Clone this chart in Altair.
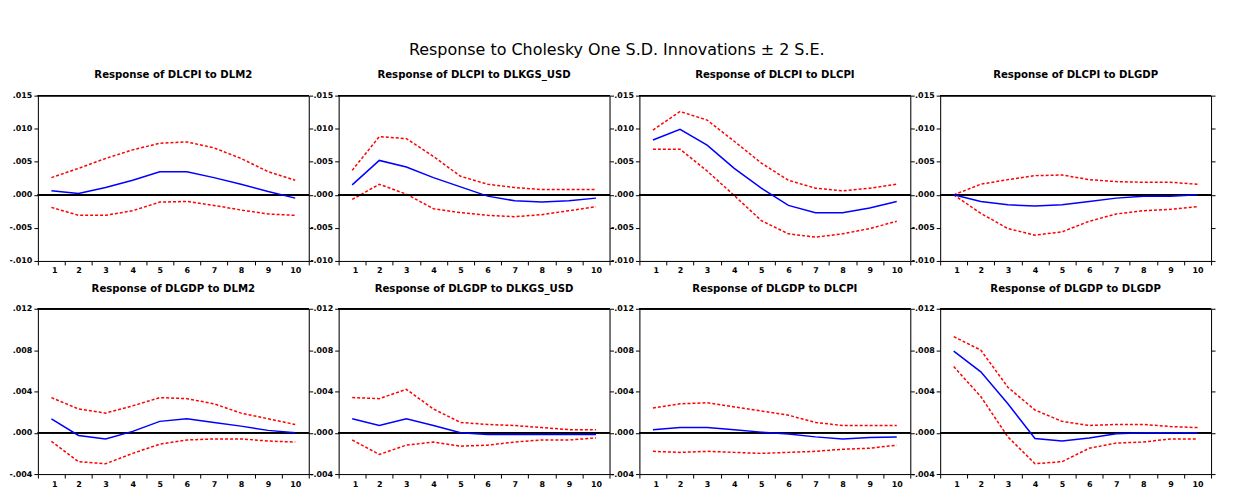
import altair as alt
import pandas as pd

periods = list(range(1, 11))

titles = [
    "Response of DLCPI to DLM2",
    "Response of DLCPI to DLKGS_USD",
    "Response of DLCPI to DLCPI",
    "Response of DLCPI to DLGDP",
    "Response of DLGDP to DLM2",
    "Response of DLGDP to DLKGS_USD",
    "Response of DLGDP to DLCPI",
    "Response of DLGDP to DLGDP",
]

# point responses (blue)
resp = [
    [0.0006, 0.0002, 0.0011, 0.0022, 0.0035, 0.0035, 0.0026, 0.0016, 0.0005, -0.0005],
    [0.0015, 0.0052, 0.0042, 0.0026, 0.0012, -0.0002, -0.0009, -0.0011, -0.0009, -0.0005],
    [0.0083, 0.0099, 0.0075, 0.0040, 0.0010, -0.0016, -0.0027, -0.0027, -0.0020, -0.0010],
    [0.0000, -0.0010, -0.0015, -0.0017, -0.0015, -0.0010, -0.0005, -0.0002, -0.0002, 0.0000],
    [0.00135, -0.00026, -0.0006, 0.00013, 0.0011, 0.00135, 0.0010, 0.00064, 0.00023, 0.0000],
    [0.00135, 0.0007, 0.00135, 0.0007, 0.0000, -0.00016, -0.00016, -0.00016, -0.00016, -0.00016],
    [0.0003, 0.0005, 0.0005, 0.0003, 0.00006, -0.00013, -0.0004, -0.0006, -0.00045, -0.0004],
    [0.0079, 0.0059, 0.0028, -0.00055, -0.0008, -0.0005, -0.0001, 0.0000, 0.0000, 0.0000],
]
# upper band (+2 S.E.)
upper = [
    [0.0026, 0.0040, 0.0055, 0.0068, 0.0078, 0.0080, 0.0071, 0.0055, 0.0035, 0.0022],
    [0.0037, 0.0088, 0.0085, 0.0058, 0.0028, 0.0016, 0.0011, 0.0008, 0.0008, 0.0008],
    [0.0098, 0.0126, 0.0113, 0.0081, 0.0048, 0.0022, 0.0010, 0.0006, 0.0010, 0.0016],
    [0.0000, 0.0016, 0.0023, 0.0029, 0.0030, 0.0023, 0.0020, 0.0019, 0.0019, 0.0016],
    [0.0034, 0.0023, 0.0019, 0.0026, 0.0034, 0.0033, 0.0028, 0.0019, 0.00135, 0.0008],
    [0.0034, 0.0033, 0.0042, 0.0023, 0.0010, 0.0008, 0.0007, 0.0005, 0.0003, 0.0003],
    [0.0024, 0.0028, 0.0029, 0.0025, 0.0021, 0.0017, 0.0010, 0.0007, 0.0007, 0.0007],
    [0.0093, 0.0080, 0.0044, 0.0022, 0.0011, 0.0007, 0.0008, 0.0008, 0.0006, 0.0005],
]
# lower band (-2 S.E.)
lower = [
    [-0.0019, -0.0031, -0.0031, -0.0024, -0.0011, -0.0010, -0.0016, -0.0023, -0.0029, -0.0031],
    [-0.0007, 0.0016, 0.0001, -0.0021, -0.0027, -0.0031, -0.0033, -0.0030, -0.0024, -0.0018],
    [0.0069, 0.0069, 0.0036, -0.0001, -0.0039, -0.0059, -0.0064, -0.0059, -0.0051, -0.0040],
    [0.0000, -0.0028, -0.0051, -0.0061, -0.0056, -0.0040, -0.0029, -0.0024, -0.0022, -0.0018],
    [-0.00084, -0.0028, -0.0030, -0.0020, -0.0011, -0.0007, -0.0006, -0.0006, -0.0008, -0.0009],
    [-0.0007, -0.0021, -0.0012, -0.0009, -0.0013, -0.0012, -0.0009, -0.0007, -0.0007, -0.0005],
    [-0.0018, -0.0019, -0.0018, -0.0019, -0.0020, -0.0019, -0.0018, -0.0016, -0.0015, -0.0012],
    [0.0064, 0.0035, -0.0004, -0.0030, -0.0028, -0.0015, -0.0010, -0.0009, -0.0006, -0.0006],
]

top_ticks = [-0.010, -0.005, 0.000, 0.005, 0.010, 0.015]
bottom_ticks = [-0.004, 0.000, 0.004, 0.008, 0.012]
x_ticks = [0.5 + i for i in range(11)]

W = 272
H = 166
FONT = "DejaVu Sans"
label_expr_y = ("(datum.value < -0.0000001 ? '-' : '') + "
                "replace(format(abs(datum.value), '.3f'), '0.', '.')")
label_expr_x = "datum.value > 10 ? '' : format(datum.value + 0.5, 'd')"


def panel(i):
    ticks = top_ticks if i < 4 else bottom_ticks
    dom = [ticks[0], ticks[-1]]
    df = pd.DataFrame({"period": periods, "resp": resp[i], "upper": upper[i], "lower": lower[i]})
    xscale = alt.Scale(domain=[0.5, 10.5], nice=False, zero=False)
    xenc = alt.X(
        "period:Q",
        scale=xscale,
        axis=alt.Axis(
            values=x_ticks, labelExpr=label_expr_x, labelOffset=W / 20, title=None,
            grid=False, tickSize=4, tickColor="black", domainColor="black",
            labelFont=FONT, labelFontSize=8, labelFontWeight="bold", labelColor="black",
            labelPadding=2, labelOverlap=False, orient="bottom",
        ),
    )
    yscale = alt.Scale(domain=dom, nice=False, zero=False)
    left_axis = alt.Axis(
        values=ticks, labelExpr=label_expr_y, title=None, grid=False, tickSize=4,
        tickColor="black", domainColor="black", labelFont=FONT, labelFontSize=8,
        labelFontWeight="bold", labelColor="black", labelPadding=2, labelOverlap=False,
        orient="left",
    )
    right_axis = alt.Axis(
        values=ticks, orient="right", labels=False, title=None, grid=False, tickSize=4,
        tickColor="black", domainColor="black",
    )
    base = alt.Chart(df)
    up = base.mark_line(color="red", strokeDash=[3, 2], strokeWidth=1.5).encode(
        x=xenc, y=alt.Y("upper:Q", scale=yscale, axis=left_axis)
    )
    lo = base.mark_line(color="red", strokeDash=[3, 2], strokeWidth=1.5).encode(
        x=xenc, y=alt.Y("lower:Q", axis=None)
    )
    zero = base.mark_rule(color="black", strokeWidth=1.2).encode(y=alt.Y(datum=0.0, axis=None))
    frame_top = base.mark_rule(color="black", strokeWidth=1).encode(
        y=alt.Y(datum=dom[1], axis=None)
    )
    bl = base.mark_line(color="blue", strokeWidth=1.5).encode(
        x=xenc, y=alt.Y("resp:Q", axis=right_axis)
    )
    return (
        alt.layer(up, lo, zero, frame_top, bl)
        .resolve_axis(y="independent")
        .properties(
            width=W,
            height=H,
            title=alt.TitleParams(
                titles[i], font=FONT, fontSize=10.2, fontWeight="bold", color="black", offset=11
            ),
        )
    )


chart = (
    alt.concat(*[panel(i) for i in range(8)], columns=4, spacing={"row": 48, "column": 30},
               bounds="flush")
    .properties(
        title=alt.TitleParams(
            "Response to Cholesky One S.D. Innovations \u00b1 2 S.E.",
            font="DejaVu Sans", fontSize=16, fontWeight="normal", color="black",
            anchor="middle", offset=12,
        ),
        padding={"left": 0, "top": 33, "right": 0, "bottom": 0},
    )
    .configure_view(stroke="black", strokeWidth=1.2)
    .configure(background="white")
)

chart.save("out.html", embed_options={"renderer": "svg", "actions": False})
